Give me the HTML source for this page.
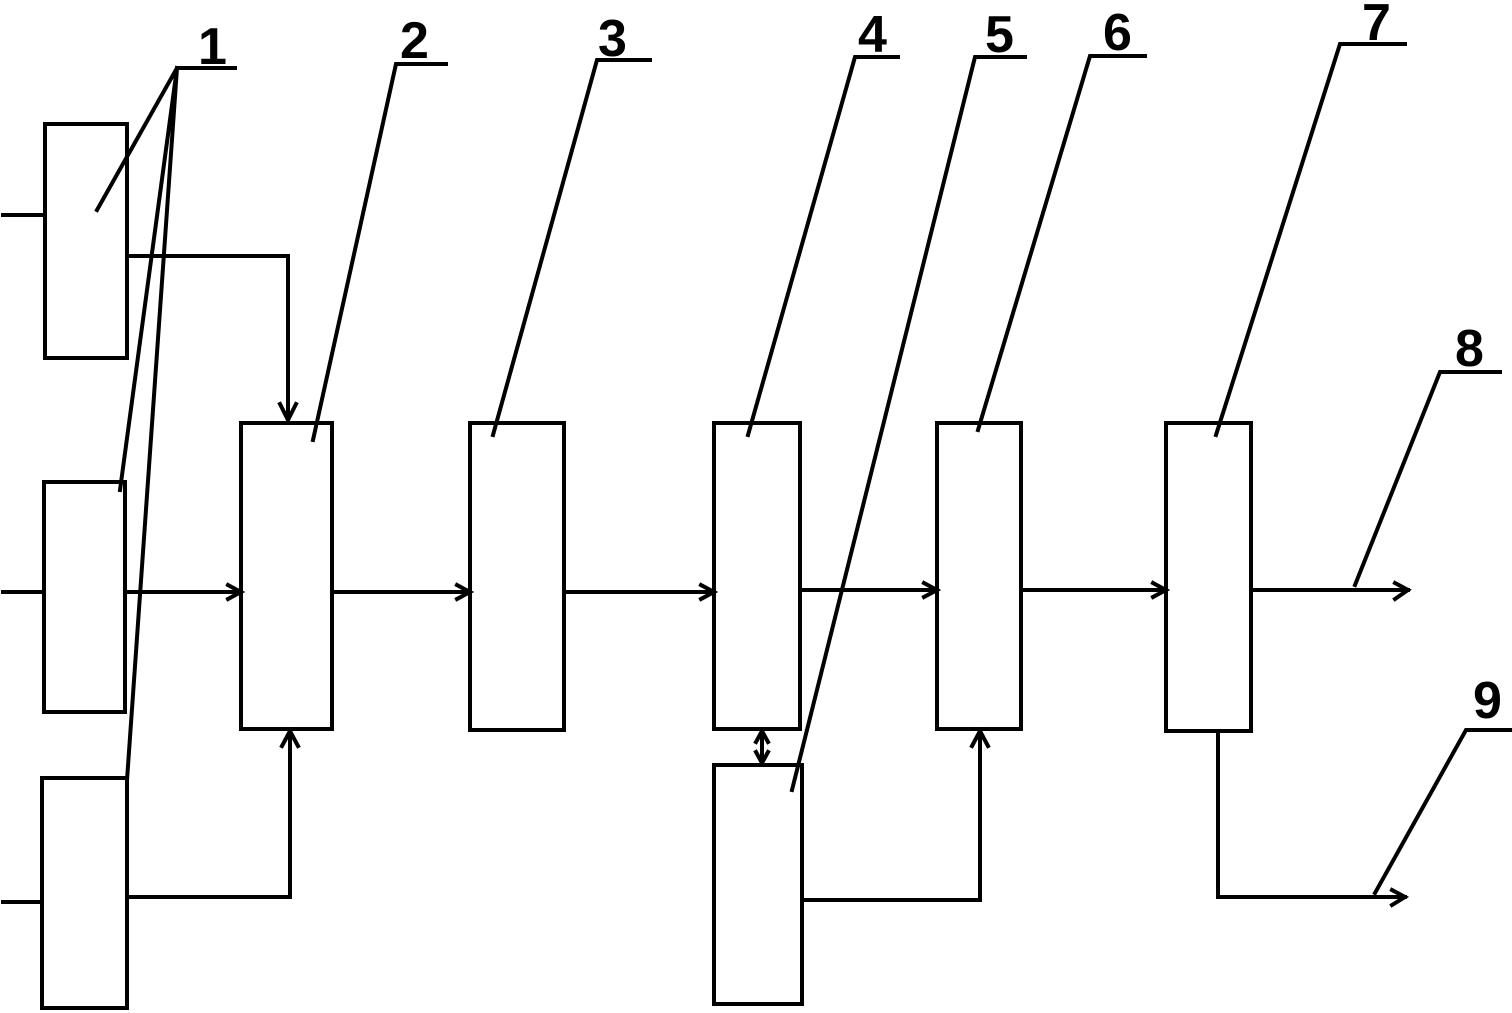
<!DOCTYPE html>
<html><head><style>html,body{margin:0;padding:0;background:#fff}svg{display:block}</style></head>
<body>
<svg width="1512" height="1013" viewBox="0 0 1512 1013" xmlns="http://www.w3.org/2000/svg">
<g fill="none" stroke="#000" stroke-width="4" stroke-linecap="square">
<rect x="45" y="124" width="82" height="234"/>
<rect x="44" y="482" width="81" height="230"/>
<rect x="42" y="778" width="85" height="230"/>
<rect x="241" y="423" width="91" height="306"/>
<rect x="470" y="423" width="94" height="307"/>
<rect x="714" y="423" width="86" height="306"/>
<rect x="714" y="765" width="88" height="239"/>
<rect x="937" y="423" width="84" height="306"/>
<rect x="1166" y="423" width="85" height="308"/>
<path d="M3 215H45M3 592H44M3 902H42"/>
<path d="M127 256H288V420"/><path d="M280 404L288 420L296 404"/>
<path d="M127 592H241"/><path d="M228 585L241 592L228 599"/>
<path d="M127 897H290V731"/><path d="M282 746L290 731L298 746"/>
<path d="M332 592H470"/><path d="M457 585L470 592L457 599"/>
<path d="M564 592H714"/><path d="M701 585L714 592L701 599"/>
<path d="M800 590H937"/><path d="M924 583L937 590L924 597"/>
<path d="M1021 590H1166"/><path d="M1153 583L1166 590L1153 597"/>
<path d="M1251 590H1408"/><path d="M1395 583L1408 590L1395 599"/>
<path d="M762 731V763"/><path d="M756 742L762 731L768 742M756 752L762 763L768 752"/>
<path d="M802 900H980V731"/><path d="M972 746L980 731L988 746"/>
<path d="M1218 731V897H1405"/><path d="M1392 890L1405 897L1392 905"/>
<path d="M235 68H177L97 210M177 68L120 490M177 68L127 780"/>
<path d="M446 64H396L313 440"/>
<path d="M650 60H597L493 435"/>
<path d="M898 57H855L748 435"/>
<path d="M1025 57H975L792 790"/>
<path d="M1145 56H1090L978 430"/>
<path d="M1405 44H1340L1216 435"/>
<path d="M1500 372H1440L1355 585"/>
<path d="M1510 730H1466L1375 893"/>
</g>
<g font-family="Liberation Sans, sans-serif" font-size="52" font-weight="bold" fill="#000">
<text x="198" y="64">1</text>
<text x="400" y="58">2</text>
<text x="598" y="56">3</text>
<text x="858" y="52">4</text>
<text x="985" y="52">5</text>
<text x="1103" y="50">6</text>
<text x="1362" y="40">7</text>
<text x="1455" y="366">8</text>
<text x="1473" y="718">9</text>
</g>
</svg>
</body></html>
